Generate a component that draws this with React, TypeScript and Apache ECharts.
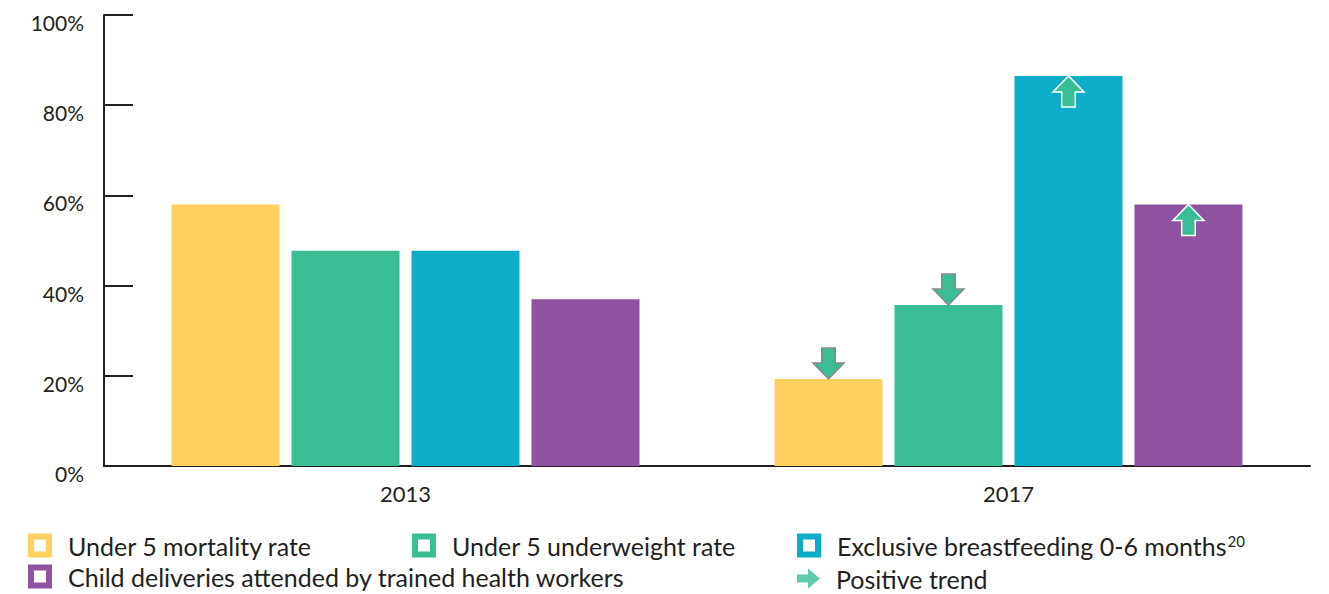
import React, { useEffect, useRef } from "react";
import * as echarts from "echarts";

const years = ["2013", "2017"];
const indicatorNames = [
  "Under 5 mortality rate",
  "Under 5 underweight rate",
  "Exclusive breastfeeding 0-6 months",
  "Child deliveries attended by trained health workers",
];
const mortality = [58, 19.3];
const underweight = [47.7, 35.7];
const breastfeeding = [47.7, 86.5];
const deliveries = [37, 58];
const trend2017 = ["down", "down", "up", "up"];
const yTicks = { min: 0, max: 100, interval: 20 };
const trendName = "Positive trend";
const footnote = "20";

const colors = ["#FED05E", "#3ABD95", "#0DADCA", "#8F53A1"];
const arrowGreen = "#3ABD95";
const ink = "#231F20";
const font = "Lato";

const UP = "path://M16,0 L32,16 L23,16 L23,31 L9,31 L9,16 L0,16 Z";
const DOWN = "path://M9,0 L23,0 L23,15 L32,15 L16,31 L0,15 L9,15 Z";
const RIGHT = "path://M0,6 L11,6 L11,0 L23,10 L11,20 L11,14 L0,14 Z";
const HOLLOW = "path://M0,0 H24 V24 H0 Z M6,6 V18 H18 V6 Z";

export default function App() {
  const ref = useRef<HTMLDivElement>(null);
  useEffect(() => {
    document.body.style.margin = "0";
    const chart = echarts.init(ref.current!, null, { renderer: "svg" });
    const seriesData = [mortality, underweight, breastfeeding, deliveries];
    const series: any[] = seriesData.map((vals, i) => ({
      name: indicatorNames[i],
      type: "bar",
      data: vals,
      barWidth: 108,
      barGap: "11.1%",
      itemStyle: { color: colors[i] },
      markPoint: {
        silent: true,
        label: { show: false },
        data: [
          {
            coord: [1, vals[1]],
            symbol: trend2017[i] === "up" ? UP : DOWN,
            symbolSize: [31, 31],
            symbolOffset: [0, trend2017[i] === "up" ? 15.5 : -15.5],
            itemStyle: {
              color: arrowGreen,
              borderColor: trend2017[i] === "up" ? "#ffffff" : "#8a8a8a",
              borderWidth: 1.5,
            },
          },
        ],
      },
    }));
    series.push({
      name: trendName,
      type: "scatter",
      data: [],
      itemStyle: { color: arrowGreen },
    });

    const legendBase = {
      orient: "horizontal",
      selectedMode: false,
      padding: 0,
      itemWidth: 24,
      itemHeight: 24,
      icon: HOLLOW,
      textStyle: {
        fontFamily: font,
        fontSize: 25,
        color: ink,
        padding: [0, 0, 0, 11],
      },
    };
    const row1 = 533;
    const row2 = 564;
    const legends: any[] = [
      { ...legendBase, data: [indicatorNames[0]], left: 28, top: row1 },
      { ...legendBase, data: [indicatorNames[1]], left: 412, top: row1 },
      {
        ...legendBase,
        data: [indicatorNames[2]],
        left: 797,
        top: row1,
        formatter: (n: string) => `{a|${n}}{s|${footnote}}`,
        textStyle: {
          ...legendBase.textStyle,
          rich: {
            a: { fontFamily: font, fontSize: 25, color: ink },
            s: { fontFamily: font, fontSize: 15, color: ink, verticalAlign: "top", padding: [0, 0, 8, 1] },
          },
        },
      },
      { ...legendBase, data: [indicatorNames[3]], left: 28, top: row2 },
      {
        ...legendBase,
        data: [{ name: trendName, icon: RIGHT }],
        itemWidth: 23,
        itemHeight: 20,
        left: 797,
        top: row2 + 2,
        textStyle: { ...legendBase.textStyle, padding: [0, 0, 0, 11] },
      },
    ];

    chart.setOption({
      animation: false,
      textStyle: { fontFamily: font },
      grid: { left: 104, right: 19, top: 15, bottom: 128, containLabel: false },
      legend: legends,
      xAxis: {
        type: "category",
        data: years,
        axisLine: { lineStyle: { color: ink, width: 2 } },
        axisTick: { inside: true, length: 11, lineStyle: { color: ink, width: 2 } },
        axisLabel: { fontFamily: font, fontSize: 22, color: ink, margin: 16 },
      },
      yAxis: {
        type: "value",
        min: yTicks.min,
        max: yTicks.max,
        interval: yTicks.interval,
        splitLine: { show: false },
        axisLine: { show: true, lineStyle: { color: ink, width: 2 } },
        axisTick: { show: true, inside: true, length: 29, lineStyle: { color: ink, width: 2 } },
        axisLabel: {
          fontFamily: font,
          fontSize: 21,
          color: ink,
          margin: 20,
          verticalAlign: "top",
          lineHeight: 15,
          formatter: "{value}%",
        },
      },
      series,
    });
    return () => chart.dispose();
  }, []);
  return <div ref={ref} style={{ width: 1329, height: 594 }} />;
}
